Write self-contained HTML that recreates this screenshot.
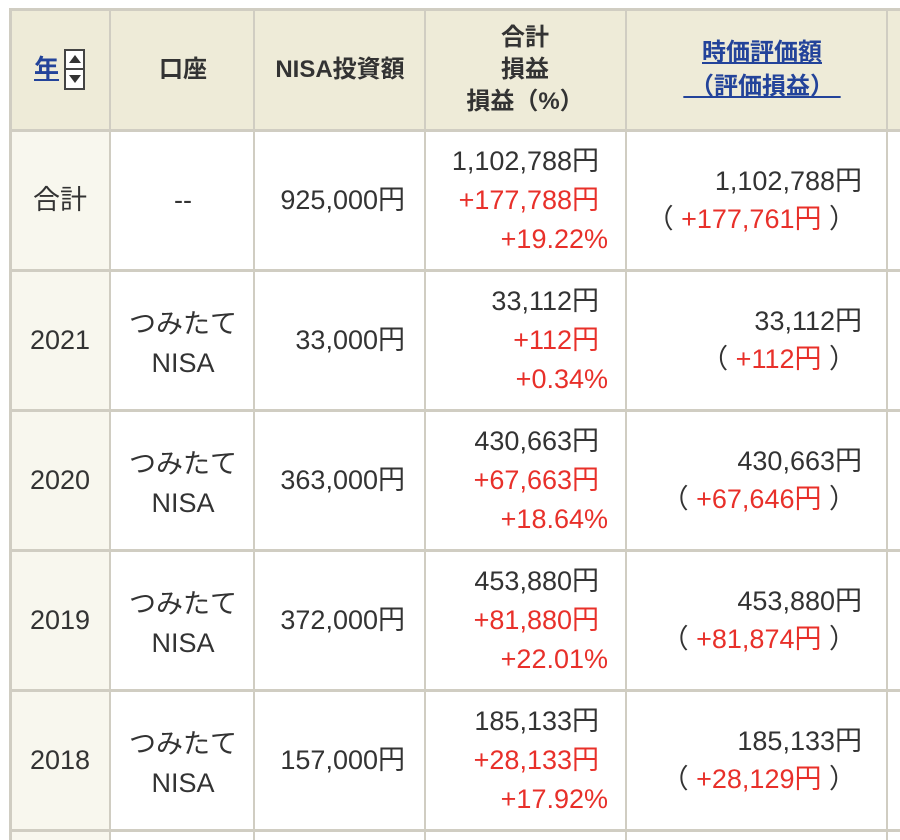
<!DOCTYPE html>
<html><head><meta charset="utf-8">
<style>
body{margin:0;width:900px;height:840px;overflow:hidden;background:#fff;font-family:"Liberation Sans","Noto Sans CJK JP",sans-serif;color:#333;}
#wrap{position:relative;width:900px;height:840px;}
.bg{position:absolute;}
.h{position:absolute;left:9px;right:0;height:3px;background:#d0cdc2;}
.v{position:absolute;width:2px;background:#d0cdc2;top:8px;bottom:0;}
.t{position:absolute;font-size:27px;line-height:30px;white-space:nowrap;}
.c{transform:translateX(-50%);text-align:center;}
.r{transform:translateX(-100%);text-align:right;}
.red{color:#e8302a;}
.hd{font-weight:bold;font-size:24px;color:#333;}
a{color:#23439a;text-decoration:underline;}
</style></head><body>
<div id="wrap">
<div class="bg" style="left:9px;top:8px;width:891px;height:123px;background:#eeebd8"></div>
<div class="bg" style="left:9px;top:131px;width:101px;height:709px;background:#f8f7ee"></div>
<div class="h" style="top:8px"></div><div class="h" style="top:129px"></div><div class="h" style="top:269px"></div><div class="h" style="top:409px"></div><div class="h" style="top:549px"></div><div class="h" style="top:689px"></div><div class="h" style="top:829px"></div>
<div class="v" style="left:9px;width:3px"></div><div class="v" style="left:109px"></div><div class="v" style="left:253px"></div><div class="v" style="left:424px"></div><div class="v" style="left:625px"></div><div class="v" style="left:886px"></div>

<div class="t hd" style="left:34px;top:54px"><a style="font-size:25px">年</a></div>
<div style="position:absolute;left:64px;top:49px;width:21px;height:41px;border:2px solid #444;background:#fff;box-sizing:border-box">
<div style="position:absolute;left:3px;top:4px;width:0;height:0;border-left:6px solid transparent;border-right:6px solid transparent;border-bottom:8px solid #333"></div>
<div style="position:absolute;left:0;right:0;top:17px;height:2px;background:#444"></div>
<div style="position:absolute;left:3px;top:24px;width:0;height:0;border-left:6px solid transparent;border-right:6px solid transparent;border-top:8px solid #333"></div>
</div>
<div class="t hd c" style="left:183px;top:55px">口座</div>
<div class="t hd c" style="left:340px;top:55px">NISA投資額</div>
<div class="t hd c" style="left:525px;top:22px;line-height:32px">合計<br>損益<br>損益（%）</div>
<div class="t hd c" style="left:762px;top:36px;line-height:34px"><a>時価評価額</a><br><a>&nbsp;（評価損益）&nbsp;</a></div>

<div>
<div class="t c" style="left:60px;top:185px">合計</div>
<div class="t c" style="left:183px;top:185px">--</div>
<div class="t r" style="left:405px;top:185px">925,000円</div>
<div class="t r" style="left:599px;top:146px">1,102,788円</div>
<div class="t r red" style="left:599px;top:185px">+177,788円</div>
<div class="t r red" style="left:608px;top:224px">+19.22%</div>
<div class="t r" style="left:862px;top:166px">1,102,788円</div>
<div class="t r" style="left:856px;top:204px">（ <span class="red">+177,761円</span> ）</div>
</div>

<div>
<div class="t c" style="left:60px;top:325px">2021</div>
<div class="t c" style="left:183px;top:305px;line-height:39px">つみたて<br>NISA</div>
<div class="t r" style="left:405px;top:325px">33,000円</div>
<div class="t r" style="left:599px;top:286px">33,112円</div>
<div class="t r red" style="left:599px;top:325px">+112円</div>
<div class="t r red" style="left:608px;top:364px">+0.34%</div>
<div class="t r" style="left:862px;top:306px">33,112円</div>
<div class="t r" style="left:856px;top:344px">（ <span class="red">+112円</span> ）</div>
</div>

<div>
<div class="t c" style="left:60px;top:465px">2020</div>
<div class="t c" style="left:183px;top:445px;line-height:39px">つみたて<br>NISA</div>
<div class="t r" style="left:405px;top:465px">363,000円</div>
<div class="t r" style="left:599px;top:426px">430,663円</div>
<div class="t r red" style="left:599px;top:465px">+67,663円</div>
<div class="t r red" style="left:608px;top:504px">+18.64%</div>
<div class="t r" style="left:862px;top:446px">430,663円</div>
<div class="t r" style="left:856px;top:484px">（ <span class="red">+67,646円</span> ）</div>
</div>

<div>
<div class="t c" style="left:60px;top:605px">2019</div>
<div class="t c" style="left:183px;top:585px;line-height:39px">つみたて<br>NISA</div>
<div class="t r" style="left:405px;top:605px">372,000円</div>
<div class="t r" style="left:599px;top:566px">453,880円</div>
<div class="t r red" style="left:599px;top:605px">+81,880円</div>
<div class="t r red" style="left:608px;top:644px">+22.01%</div>
<div class="t r" style="left:862px;top:586px">453,880円</div>
<div class="t r" style="left:856px;top:624px">（ <span class="red">+81,874円</span> ）</div>
</div>

<div>
<div class="t c" style="left:60px;top:745px">2018</div>
<div class="t c" style="left:183px;top:725px;line-height:39px">つみたて<br>NISA</div>
<div class="t r" style="left:405px;top:745px">157,000円</div>
<div class="t r" style="left:599px;top:706px">185,133円</div>
<div class="t r red" style="left:599px;top:745px">+28,133円</div>
<div class="t r red" style="left:608px;top:784px">+17.92%</div>
<div class="t r" style="left:862px;top:726px">185,133円</div>
<div class="t r" style="left:856px;top:764px">（ <span class="red">+28,129円</span> ）</div>
</div>
</div>
</body></html>
